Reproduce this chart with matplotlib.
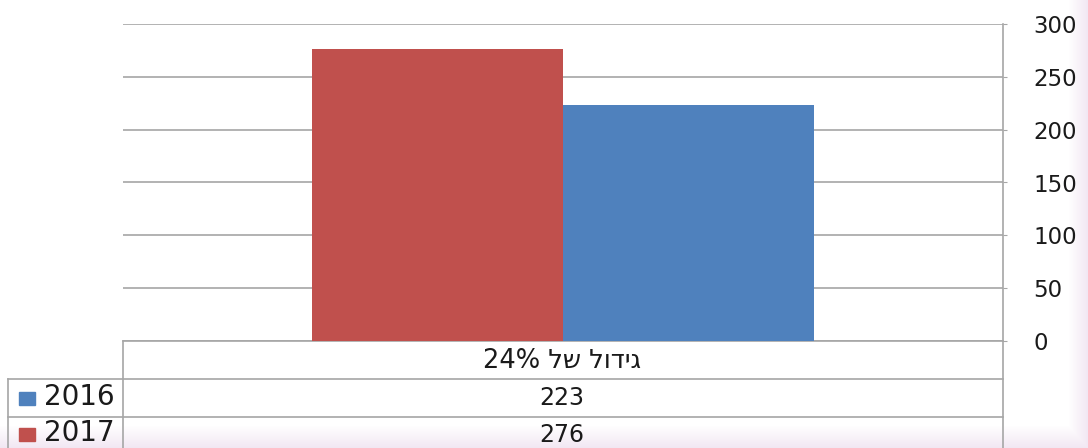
import numpy as np
import matplotlib
matplotlib.use("Agg")
import matplotlib.pyplot as plt
from matplotlib.lines import Line2D
from matplotlib.patches import Rectangle

# data
category = "גידול של 24%"
series_names = ["2016", "2017"]
series_values = [223, 276]
series_colors = ["#4F81BD", "#C0504D"]
yticks = [0, 50, 100, 150, 200, 250, 300]

W, H = 1088, 448
grid_c = "#A6A6A6"
txt_c = "#1a1a1a"
font = ["DejaVu Sans"]


def visual_rtl(s):
    # matplotlib has no bidi: reverse word order and the letters of hebrew words
    out = []
    for w in s.split(" ")[::-1]:
        if any("\u0590" <= ch <= "\u05ff" for ch in w):
            w = w[::-1]
        out.append(w)
    return " ".join(out)


def fx(px):
    return px / W


def fy(py):
    return 1 - py / H


fig = plt.figure(figsize=(W / 100, H / 100), dpi=100)
fig.patch.set_facecolor("white")

# faint lavender shading along the right and bottom edges of the screenshot
bg = fig.add_axes([0, 0, 1, 1], zorder=-10)
xs = np.arange(W)
ys = np.arange(H)
a_r = np.clip((xs - 1068) / 20, 0, 1)
a_b = np.clip((ys - 425) / 23, 0, 1)
alpha = np.maximum(a_r[None, :], a_b[:, None]) * 0.55
img = np.zeros((H, W, 4))
img[..., :3] = np.array([0xE6, 0xD2, 0xE8]) / 255
img[..., 3] = alpha
bg.imshow(img, aspect="auto", extent=[0, W, H, 0])
bg.axis("off")

left, right, top, bottom = 123, 1003, 24, 341
ax = fig.add_axes([fx(left), fy(bottom), fx(right) - fx(left), fy(top) - fy(bottom)])
ax.set_facecolor("none")

# single category, RTL like the original: x axis reversed
bar_w = 0.285
n = len(series_values)
for i, (name, v, c) in enumerate(zip(series_names, series_values, series_colors)):
    off = (i - (n - 1) / 2) * bar_w
    ax.bar(0.5 + off, v, width=bar_w, color=c, zorder=3)

ax.set_xlim(1, 0)
ax.set_ylim(0, 300)
ax.set_yticks(yticks)
ax.yaxis.tick_right()
ax.yaxis.grid(True, color=grid_c, lw=1.2)
ax.set_axisbelow(True)
ax.set_xticks([])
ax.tick_params(axis="y", length=3, color=grid_c, pad=19, labelsize=16.5,
               labelcolor=txt_c)
for lab in ax.get_yticklabels():
    lab.set_family(font)
for s in ["top", "left"]:
    ax.spines[s].set_visible(False)
for s in ["right", "bottom"]:
    ax.spines[s].set_color(grid_c)
    ax.spines[s].set_linewidth(1.2)

# data table under the plot
row_h = 38
rows_y = [bottom + row_h, bottom + 2 * row_h]
tbl_left = 8
lw = 1.2
fig.add_artist(Line2D([fx(left), fx(left)], [fy(bottom), fy(H)], color=grid_c, lw=lw))
fig.add_artist(Line2D([fx(right), fx(right)], [fy(bottom), fy(H)], color=grid_c, lw=lw))
fig.add_artist(Line2D([fx(tbl_left), fx(tbl_left)], [fy(rows_y[0]), fy(H)], color=grid_c, lw=lw))
for ry in rows_y:
    fig.add_artist(Line2D([fx(tbl_left), fx(right)], [fy(ry), fy(ry)], color=grid_c, lw=lw))

cx = (left + right) / 2 - 1
fig.text(fx(cx), fy(bottom + row_h / 2 + 1), visual_rtl(category), ha="center", va="center",
         fontsize=18.5, color=txt_c, family=font)

# baselines of the table rows (last row is clipped by the screenshot, keep it inside)
name_base = [405, 441]
val_base = [405, 442]
for i, (name, v, c) in enumerate(zip(series_names, series_values, series_colors)):
    fig.add_artist(Rectangle((fx(19), fy(name_base[i])), 16 / W, 13 / H, color=c))
    fig.text(fx(44), fy(name_base[i]), name, ha="left", va="baseline", fontsize=20,
             color=txt_c, family=font)
    fig.text(fx(cx), fy(val_base[i]), str(v), ha="center", va="baseline", fontsize=17,
             color=txt_c, family=font)

fig.savefig("out.png", dpi=100)
